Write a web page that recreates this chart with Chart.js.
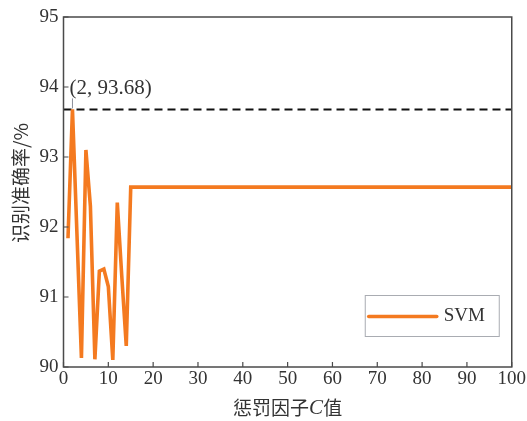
<!DOCTYPE html>
<html>
<head>
<meta charset="utf-8">
<script src="https://cdn.jsdelivr.net/npm/chart.js@4/dist/chart.umd.min.js"></script>
<style>
  html, body { margin: 0; padding: 0; background: #fff; }
  #wrap { width: 527px; height: 421px; }
</style>
</head>
<body>
<div id="wrap"><canvas id="chart" width="527" height="421"></canvas></div>
<script>
// Penalty factor C and SVM recognition accuracy (%)
const penaltyC = [1, 2, 3, 4, 5, 6, 7, 8, 9, 10, 11, 12, 13, 14, 15, 100];
const accuracy = [91.84, 93.68, 91.9, 90.13, 93.10, 92.3, 90.11, 91.37, 91.40, 91.15, 90.10, 92.35, 91.3, 90.30, 92.57, 92.57];

// Best result, marked with a dashed reference line
const bestC = 2;
const bestAcc = 93.68;

const xTicks = [0, 10, 20, 30, 40, 50, 60, 70, 80, 90, 100];
const yTicks = [90, 91, 92, 93, 94, 95];

const ORANGE = '#F47A20';
const AXIS = '#4a4a4a';
const TEXT = '#333333';
const SERIF = '"Liberation Serif", "DejaVu Serif", serif';
const CJK = '"Noto Sans CJK SC", "Noto Sans", sans-serif';

const decorations = {
  id: 'decorations',
  afterDraw(chart) {
    const { ctx, chartArea: a, scales: { x, y } } = chart;
    ctx.save();

    // plot frame
    ctx.strokeStyle = AXIS;
    ctx.lineWidth = 1.5;
    ctx.strokeRect(a.left, a.top, a.right - a.left, a.bottom - a.top);

    // inward tick marks
    ctx.lineWidth = 1.2;
    ctx.beginPath();
    xTicks.forEach(v => {
      const px = x.getPixelForValue(v);
      ctx.moveTo(px, a.bottom);
      ctx.lineTo(px, a.bottom - 5);
    });
    yTicks.forEach(v => {
      const py = y.getPixelForValue(v);
      ctx.moveTo(a.left, py);
      ctx.lineTo(a.left + 5, py);
    });
    ctx.stroke();

    // best-point label with leader line
    const bx = x.getPixelForValue(bestC);
    const by = y.getPixelForValue(bestAcc);
    ctx.strokeStyle = '#8a8f99';
    ctx.lineWidth = 1;
    ctx.beginPath();
    ctx.moveTo(bx, by - 1);
    ctx.lineTo(bx, by - 11);
    ctx.stroke();
    ctx.fillStyle = TEXT;
    ctx.font = '21px ' + SERIF;
    ctx.textAlign = 'left';
    ctx.textBaseline = 'middle';
    ctx.fillText('(' + bestC + ', ' + bestAcc.toFixed(2) + ')', bx - 3, by - 21);

    // legend box
    const lw = 134, lh = 41;
    const lx = a.right - 13 - lw;
    const ly = a.bottom - 31 - lh;
    ctx.fillStyle = '#fff';
    ctx.fillRect(lx, ly, lw, lh);
    ctx.strokeStyle = '#a9acb2';
    ctx.lineWidth = 1;
    ctx.strokeRect(lx + 0.5, ly + 0.5, lw, lh);
    const ds = chart.data.datasets[0];
    ctx.strokeStyle = ds.borderColor;
    ctx.lineWidth = 3.6;
    ctx.lineCap = 'round';
    ctx.beginPath();
    ctx.moveTo(lx + 4, ly + lh / 2 + 1);
    ctx.lineTo(lx + 72, ly + lh / 2 + 1);
    ctx.stroke();
    ctx.fillStyle = TEXT;
    ctx.font = '19px ' + SERIF;
    ctx.textBaseline = 'middle';
    ctx.fillText(ds.label, lx + 79, ly + lh / 2 + 1);

    // axis titles
    ctx.fillStyle = TEXT;
    ctx.textBaseline = 'middle';
    // x title: 惩罚因子 C 值, with an italic C
    const parts = [
      { t: '惩罚因子', f: '19px ' + CJK },
      { t: 'C', f: 'italic 21px ' + SERIF },
      { t: '值', f: '19px ' + CJK }
    ];
    let total = 0;
    parts.forEach(p => { ctx.font = p.f; p.w = ctx.measureText(p.t).width; total += p.w; });
    let tx = (a.left + a.right) / 2 - total / 2;
    const ty = 408;
    parts.forEach(p => {
      ctx.font = p.f;
      ctx.textAlign = 'left';
      ctx.fillText(p.t, tx, ty);
      tx += p.w;
    });

    // y title
    ctx.save();
    ctx.translate(21, 183);
    ctx.rotate(-Math.PI / 2);
    ctx.font = '19px ' + CJK;
    ctx.textAlign = 'center';
    ctx.fillText('识别准确率/%', 0, 0);
    ctx.restore();

    ctx.restore();
  }
};

new Chart(document.getElementById('chart'), {
  type: 'line',
  data: {
    datasets: [
      {
        label: 'SVM',
        data: penaltyC.map((c, i) => ({ x: c, y: accuracy[i] })),
        borderColor: ORANGE,
        borderWidth: 3.6,
        pointRadius: 0,
        tension: 0,
        borderJoinStyle: 'miter',
        order: 1
      },
      {
        label: 'best',
        data: [{ x: 0, y: bestAcc }, { x: 100, y: bestAcc }],
        borderColor: '#111',
        borderWidth: 2,
        borderDash: [8, 5],
        pointRadius: 0,
        order: 2
      }
    ]
  },
  options: {
    responsive: false,
    animation: false,
    devicePixelRatio: 1,
    layout: { padding: { top: 17, right: 15, left: 0, bottom: 0 } },
    plugins: { legend: { display: false }, tooltip: { enabled: false } },
    scales: {
      x: {
        type: 'linear',
        min: 0,
        max: 100,
        afterBuildTicks(scale) { scale.ticks = xTicks.map(v => ({ value: v })); },
        afterFit(scale) { scale.height = 54; },
        grid: { display: false, drawTicks: false },
        border: { display: false },
        ticks: { color: TEXT, font: { family: SERIF, size: 19 }, padding: 1, maxRotation: 0, autoSkip: false }
      },
      y: {
        type: 'linear',
        min: 90,
        max: 95,
        afterBuildTicks(scale) { scale.ticks = yTicks.map(v => ({ value: v })); },
        afterFit(scale) { scale.width = 63.5; },
        grid: { display: false, drawTicks: false },
        border: { display: false },
        ticks: { color: TEXT, font: { family: SERIF, size: 19 }, padding: 5 }
      }
    }
  },
  plugins: [decorations]
});
</script>
</body>
</html>
